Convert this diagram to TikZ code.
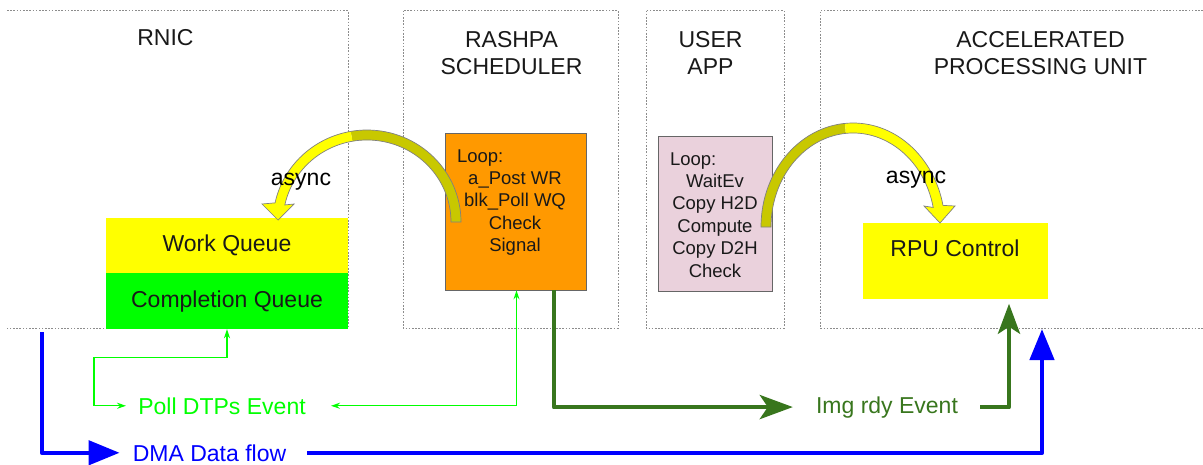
\documentclass[tikz,border=0pt]{standalone}
\usepackage{fontspec}
\setmainfont{Liberation Sans}
\usetikzlibrary{arrows.meta,calc}
\definecolor{boxorange}{HTML}{FF9900}
\definecolor{boxpink}{HTML}{EAD1DC}
\definecolor{boxyellow}{HTML}{FFFF00}
\definecolor{boxgreen}{HTML}{00FF00}
\definecolor{flowdark}{HTML}{38761D}
\definecolor{flowlight}{HTML}{00FF00}
\definecolor{flowblue}{HTML}{0000FF}
\definecolor{arcdark}{HTML}{C8C800}
\definecolor{framegray}{HTML}{8C8C8C}
\begin{document}
\begin{tikzpicture}[x=1pt,y=1pt,
  frameline/.style={draw=framegray, line width=0.8pt, dash pattern=on 1.6pt off 1.6pt},
  titletext/.style={font=\fontsize{23}{27}\selectfont, align=center, anchor=base, inner sep=0pt, text=black!90},
  plaintext/.style={font=\fontsize{23}{27}\selectfont, anchor=base, inner sep=0pt},
  looptext/.style={font=\fontsize{18.5}{22.4}\selectfont, align=center, anchor=base, inner sep=0pt, text=black!90},
  fillbox/.style={inner sep=0pt, font=\fontsize{23}{27}\selectfont, text=black!90},
  progbox/.style={draw=black!60, line width=0.8pt, inner sep=0pt},
  ltflow/.style={draw=flowlight, line width=1.2pt, {Stealth[length=9pt,width=6pt]}-{Stealth[length=9pt,width=6pt]}},
  dkflow/.style={draw=flowdark, line width=4.8pt, line join=round, -{Stealth[length=33pt,width=24pt,inset=8pt]}},
  dkflowup/.style={draw=flowdark, line width=4.8pt, line join=round, -{Stealth[length=30pt,width=22pt,inset=7pt]}},
  blueflow/.style={draw=flowblue, line width=4.5pt, line join=round, -{Triangle[length=31pt,width=24pt]}},
  arcedge/.style={draw=black!50, line width=0.7pt}
]
\useasboundingbox (0,0) rectangle (1203,-464);

% frames
\draw[frameline] (7,-10.5) -- (348,-10.5) -- (348,-328) -- (6,-328);
\draw[frameline] (403,-10.5) rectangle (618,-328);
\draw[frameline] (646,-10.5) rectangle (784,-328);
\draw[frameline] (1203,-10.5) -- (820,-10.5) -- (820,-328) -- (1203,-328);

% titles (base = baseline of last line)
\node[titletext] (trnic) at (165.5,-45) {RNIC};
\node[titletext] (trashpa) at (511.5,-74) {RASHPA\\SCHEDULER};
\node[titletext] (tuser) at (710.5,-74) {USER\\APP};
\node[titletext] (tapu) at (1040.5,-74) {ACCELERATED\\PROCESSING UNIT};

% boxes
\node[fillbox, fill=boxyellow, minimum width=242pt, minimum height=55pt,
      text height=16.5pt, text depth=4pt] (wq) at (227,-245.5) {Work Queue};
\node[fillbox, fill=boxgreen, minimum width=242pt, minimum height=56pt,
      text height=16.5pt, text depth=4pt] (cq) at (227,-301) {Completion Queue};
\node[fillbox, fill=boxyellow, minimum width=185pt, minimum height=76pt,
      text height=16.5pt, text depth=24.5pt] (rpu) at (955,-260.5) {RPU Control};

\node[progbox, fill=boxorange, minimum width=141pt, minimum height=157pt] (sched) at (515.5,-211.5) {};
\node[looptext] (schedtxt) at (515,-251.6) {\makebox[116pt][l]{Loop:}\\a\_Post WR\\blk\_Poll WQ\\Check\\Signal};

\node[progbox, fill=boxpink, minimum width=114pt, minimum height=155pt] (app) at (715,-214) {};
\node[looptext] (apptxt) at (715,-277) {\makebox[90pt][l]{Loop:}\\WaitEv\\Copy H2D\\Compute\\Copy D2H\\Check};

% flow labels
\node[plaintext, text=flowlight] (poll) at (222,-414) {Poll DTPs Event};
\node[plaintext, text=flowdark] (img) at (887,-413) {Img rdy Event};
\node[plaintext, text=flowblue] (dma) at (209.5,-461) {DMA Data flow};

% light green connectors
\draw[ltflow] (cq.south) -- ++(0,-28) -| ($(poll.west)+(-44pt,0)$) -- ([xshift=-12pt]poll.west);
\draw[ltflow] ([xshift=1pt]sched.south) |- ([xshift=25pt]poll.east);

% dark green connectors
\draw[dkflow] ([xshift=38.5pt]sched.south) |- ([xshift=-23pt]img.west);
\draw[dkflowup] ([xshift=22pt]img.east) -| ([xshift=54pt,yshift=-5pt]rpu.south);

% blue connectors
\coordinate (dmastart) at (42,-332);
\coordinate (dmaend) at (1042,-329);
\draw[blueflow] (dmastart) |- ([xshift=-13pt]dma.west);
\draw[blueflow] ([xshift=21pt]dma.east) -| (dmaend);

% curved async arrow 1 (scheduler -> work queue)
\coordinate (c1) at (367,-222);
\fill[arcdark] ($(c1)+(0:84 and 82)$) -- ($(c1)+(0:94 and 92)$)
   arc[start angle=0,end angle=100,x radius=94pt,y radius=92pt]
   -- ($(c1)+(100:84 and 82)$)
   arc[start angle=100,end angle=0,x radius=84pt,y radius=82pt] -- cycle;
\fill[boxyellow] ($(c1)+(100:94 and 92)$)
   arc[start angle=100,end angle=168,x radius=94pt,y radius=92pt]
   -- (262,-204) -- (278,-220) -- (294,-204)
   -- ($(c1)+(168:84 and 82)$)
   arc[start angle=168,end angle=100,x radius=84pt,y radius=82pt] -- cycle;
\draw[arcedge] ($(c1)+(0:84 and 82)$) -- ($(c1)+(0:94 and 92)$)
   arc[start angle=0,end angle=168,x radius=94pt,y radius=92pt]
   -- (262,-204) -- (278,-220) -- (294,-204)
   -- ($(c1)+(168:84 and 82)$)
   arc[start angle=168,end angle=0,x radius=84pt,y radius=82pt] -- cycle;

% curved async arrow 2 (user app -> RPU control)
\coordinate (c2) at (853,-227);
\fill[arcdark] ($(c2)+(180:82 and 94)$) -- ($(c2)+(180:92 and 104)$)
   arc[start angle=180,end angle=95,x radius=92pt,y radius=104pt]
   -- ($(c2)+(95:82 and 94)$)
   arc[start angle=95,end angle=180,x radius=82pt,y radius=94pt] -- cycle;
\fill[boxyellow] ($(c2)+(95:92 and 104)$)
   arc[start angle=95,end angle=12,x radius=92pt,y radius=104pt]
   -- (955,-206) -- (940,-223) -- (924,-206)
   -- ($(c2)+(12:82 and 94)$)
   arc[start angle=12,end angle=95,x radius=82pt,y radius=94pt] -- cycle;
\draw[arcedge] ($(c2)+(180:82 and 94)$) -- ($(c2)+(180:92 and 104)$)
   arc[start angle=180,end angle=12,x radius=92pt,y radius=104pt]
   -- (955,-206) -- (940,-223) -- (924,-206)
   -- ($(c2)+(12:82 and 94)$)
   arc[start angle=12,end angle=180,x radius=82pt,y radius=94pt] -- cycle;

% async labels drawn over the curved arrows
\node[plaintext] (async1) at (301,-185) {async};
\node[plaintext] (async2) at (916,-183) {async};
\end{tikzpicture}
\end{document}
